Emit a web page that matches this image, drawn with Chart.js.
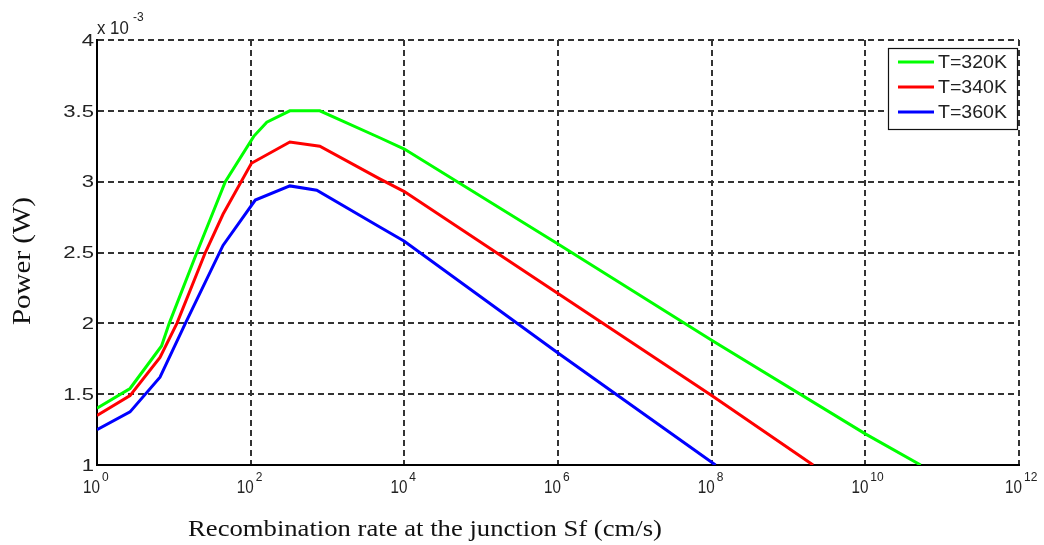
<!DOCTYPE html>
<html>
<head>
<meta charset="utf-8">
<script src="https://cdn.jsdelivr.net/npm/chart.js@4.4.1/dist/chart.umd.min.js"></script>
<style>
  html, body { margin: 0; padding: 0; background: #fff; }
  #wrap { width: 1044px; height: 545px; position: relative; }
</style>
</head>
<body>
<div id="wrap"><canvas id="power-chart"></canvas></div>
<script>
// Sf given as log10 exponent, power in units of 1e-3 W
const sfExp320 = [0, 0.43, 0.84, 0.94, 1.30, 1.67, 2.04, 2.21, 2.51, 2.90, 3.68, 4, 6, 8, 10, 10.72];
const power320 = [1.40, 1.54, 1.84, 2.00, 2.50, 3.00, 3.32, 3.42, 3.50, 3.50, 3.31, 3.23, 2.56, 1.88, 1.22, 1.00];

const sfExp340 = [0, 0.43, 0.82, 1.04, 1.41, 1.64, 2.01, 2.51, 2.90, 3.68, 4, 6, 8, 9.32];
const power340 = [1.35, 1.49, 1.76, 2.00, 2.50, 2.77, 3.13, 3.28, 3.25, 3.02, 2.93, 2.21, 1.49, 1.00];

const sfExp360 = [0, 0.43, 0.82, 1.15, 1.64, 2.06, 2.51, 2.86, 3.68, 4, 6, 8.05];
const power360 = [1.25, 1.375, 1.62, 2.00, 2.55, 2.87, 2.97, 2.94, 2.68, 2.58, 1.79, 1.00];

const seriesLabels = ["T=320K", "T=340K", "T=360K"];
const seriesColors = ["#00ff00", "#ff0000", "#0000ff"];

const xTickExp = [0, 2, 4, 6, 8, 10, 12];
const yTickValues = [1, 1.5, 2, 2.5, 3, 3.5, 4];

const SANS = '"Liberation Sans", Arial, sans-serif';
const SERIF = '"Liberation Serif", "Times New Roman", serif';

function toPoints(exps, vals) {
  return exps.map((e, i) => ({ x: Math.pow(10, e), y: vals[i] }));
}

// text with independent x/y stretch (the source image is a bit distorted)
function drawText(ctx, text, x, y, font, align, sx, sy) {
  ctx.save();
  ctx.translate(x, y);
  ctx.scale(sx || 1, sy || 1);
  ctx.font = font;
  ctx.textAlign = align;
  ctx.textBaseline = "middle";
  ctx.fillText(text, 0, 0);
  ctx.restore();
}

const matlabText = {
  id: "matlabText",
  afterDraw(chart) {
    const { ctx, chartArea, scales } = chart;
    ctx.save();
    ctx.fillStyle = "#222";

    // y tick labels
    yTickValues.forEach(v => {
      drawText(ctx, String(v), chartArea.left - 3, scales.y.getPixelForValue(v) + 1,
        "17px " + SANS, "right", 1.3, 1);
    });

    // x tick labels 10^n
    xTickExp.forEach(e => {
      const px = scales.x.getPixelForValue(Math.pow(10, e));
      drawText(ctx, "10", px + 3, chartArea.bottom + 23, "16px " + SANS, "right", 0.95, 1.2);
      drawText(ctx, String(e), px + 5, chartArea.bottom + 12, "12px " + SANS, "left", 1, 1.1);
    });

    // exponent multiplier
    drawText(ctx, "x 10", chartArea.left, 29, "16px " + SANS, "left", 1.05, 1.1);
    drawText(ctx, "-3", chartArea.left + 36, 17, "12px " + SANS, "left", 1, 1.1);

    // axis titles
    ctx.fillStyle = "#111";
    ctx.save();
    ctx.translate(23, 261);
    ctx.rotate(-Math.PI / 2);
    ctx.font = "26px " + SERIF;
    const wy = ctx.measureText("Power (W)").width;
    drawText(ctx, "Power (W)", 0, 0, "26px " + SERIF, "center", 128 / wy, 1);
    ctx.restore();

    ctx.font = "24px " + SERIF;
    const title = "Recombination rate at the junction Sf (cm/s)";
    const wx = ctx.measureText(title).width;
    drawText(ctx, title, 425, 530, "24px " + SERIF, "center", 474 / wx, 1);

    // legend box
    const lx = 888, ly = 48, lw = 129, lh = 81;
    ctx.fillStyle = "#fff";
    ctx.fillRect(lx, ly, lw, lh);
    ctx.strokeStyle = "#111";
    ctx.lineWidth = 1.2;
    ctx.strokeRect(lx + 0.5, ly + 0.5, lw, lh);
    chart.data.datasets.forEach((ds, i) => {
      const yy = 62 + i * 25;
      ctx.strokeStyle = ds.borderColor;
      ctx.lineWidth = 3;
      ctx.beginPath();
      ctx.moveTo(898, yy);
      ctx.lineTo(934, yy);
      ctx.stroke();
      ctx.fillStyle = "#222";
      drawText(ctx, ds.label, 938, yy + 1, "17px " + SANS, "left", 1.15, 1.05);
    });

    ctx.restore();
  }
};

const datasets = [
  toPoints(sfExp320, power320),
  toPoints(sfExp340, power340),
  toPoints(sfExp360, power360),
].map((data, i) => ({
  label: seriesLabels[i],
  data,
  borderColor: seriesColors[i],
  backgroundColor: seriesColors[i],
  borderWidth: 3,
  pointRadius: 0,
  tension: 0,
  fill: false,
}));

const gridStyle = { color: "#333", lineWidth: 2, drawTicks: false };
const borderStyle = { color: "#000", width: 2, dash: [6, 4] };

new Chart(document.getElementById("power-chart"), {
  type: "line",
  data: { datasets },
  options: {
    responsive: true,
    maintainAspectRatio: false,
    animation: false,
    layout: { padding: { left: 97, top: 40, right: 25, bottom: 80 } },
    plugins: { legend: { display: false }, tooltip: { enabled: false } },
    scales: {
      x: {
        type: "logarithmic",
        min: 1,
        max: 1e12,
        afterBuildTicks: (scale) => {
          scale.ticks = xTickExp.map(e => ({ value: Math.pow(10, e) }));
        },
        ticks: { display: false },
        grid: gridStyle,
        border: borderStyle,
      },
      y: {
        type: "linear",
        min: 1,
        max: 4,
        afterBuildTicks: (scale) => {
          scale.ticks = yTickValues.map(v => ({ value: v }));
        },
        ticks: { display: false },
        grid: gridStyle,
        border: borderStyle,
      },
    },
  },
  plugins: [matlabText],
});
</script>
</body>
</html>
